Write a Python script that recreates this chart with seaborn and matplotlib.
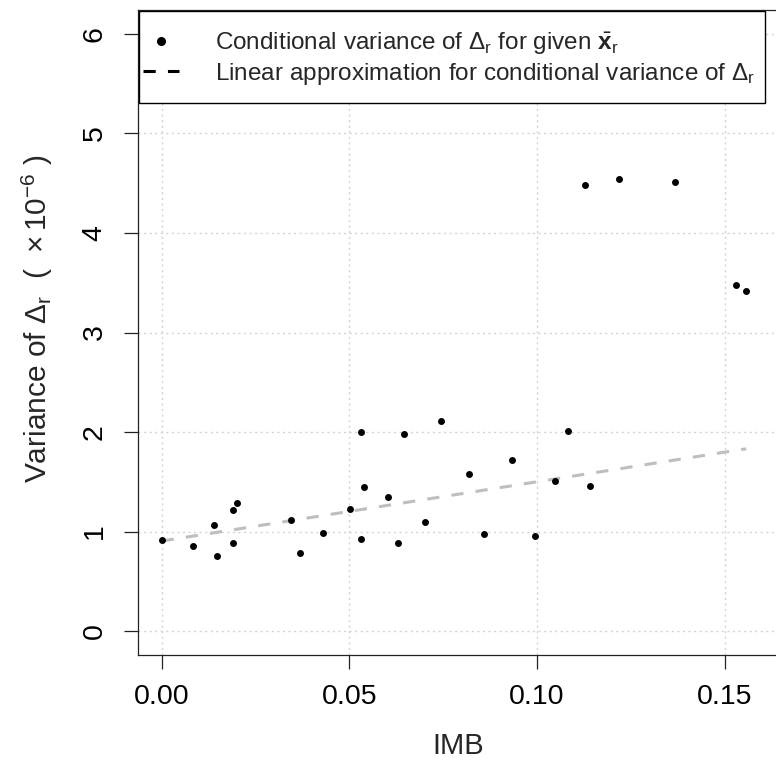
import numpy as np
import pandas as pd
import matplotlib
matplotlib.use("Agg")
import matplotlib.pyplot as plt
import seaborn as sns
from matplotlib.lines import Line2D
from matplotlib.patches import Rectangle

# IMB values and conditional variance (x 1e-6)
imb = [0.0000, 0.0084, 0.0140, 0.0147, 0.0191, 0.0191, 0.0202, 0.0344, 0.0368,
       0.0430, 0.0501, 0.0532, 0.0532, 0.0540, 0.0602, 0.0630, 0.0645, 0.0701,
       0.0744, 0.0818, 0.0858, 0.0932, 0.0995, 0.1047, 0.1082, 0.1141, 0.1128,
       0.1219, 0.1367, 0.1529, 0.1557]
cond_var = [0.915, 0.86, 1.065, 0.755, 1.215, 0.89, 1.285, 1.12, 0.785,
            0.99, 1.23, 2.005, 0.93, 1.45, 1.345, 0.89, 1.98, 1.095,
            2.11, 1.58, 0.98, 1.715, 0.96, 1.505, 2.01, 1.46, 4.48,
            4.54, 4.51, 3.48, 3.42]

# linear approximation, end points
lin_x = [0.0, 0.1557]
lin_y = [0.905, 1.832]

x_ticks = [0.00, 0.05, 0.10, 0.15]
y_ticks = [0, 1, 2, 3, 4, 5, 6]

sns.set_theme(style="white")
plt.rcParams['font.family'] = ['Liberation Sans', 'DejaVu Sans']
plt.rcParams['mathtext.fontset'] = 'custom'
plt.rcParams['mathtext.rm'] = 'Liberation Sans'
plt.rcParams['mathtext.it'] = 'Liberation Sans:italic'
plt.rcParams['mathtext.bf'] = 'Liberation Sans:bold'

df = pd.DataFrame({"IMB": imb, "var": cond_var})
line_df = pd.DataFrame({"IMB": lin_x, "var": lin_y})

fig = plt.figure(figsize=(7.76, 7.64), dpi=100)
ax_w, ax_h = 640.5, 645
ax = fig.add_axes([138 / 776, 109 / 764, ax_w / 776, ax_h / 764])

for t in x_ticks:
    ax.axvline(t, color="#d3d3d3", lw=1, ls=(0, (1.5, 2.5)), zorder=0)
for t in y_ticks:
    ax.axhline(t, color="#d3d3d3", lw=1, ls=(0, (1.5, 2.5)), zorder=0)

sns.lineplot(data=line_df, x="IMB", y="var", ax=ax, color="#bebebe", lw=2.2,
             dashes=False, zorder=2)
ax.lines[-1].set_linestyle((0, (4, 4)))
sns.scatterplot(data=df, x="IMB", y="var", ax=ax, color="black", s=25,
                linewidth=0, zorder=3)

ax.set_xlim(-0.0063, 0.1643)
ax.set_ylim(-0.24, 6.24)
ax.set_xticks(x_ticks)
ax.set_xticklabels(["0.00", "0.05", "0.10", "0.15"])
ax.set_yticks(y_ticks)
ax.set_yticklabels([str(v) for v in y_ticks], rotation=90, va="center")
ax.tick_params(axis="both", direction="out", length=10, width=0.9,
               color="#222222", labelsize=20.5, labelcolor="black")
ax.tick_params(axis="x", pad=11, bottom=True)
ax.tick_params(axis="y", pad=12, left=True)
for sp in ax.spines.values():
    sp.set_color("#222222")
    sp.set_linewidth(0.9)

ax.set_xlabel("IMB", fontsize=21, labelpad=16)
ax.set_ylabel(r"Variance of $\Delta_\mathrm{r}$  (  $\times\,10^{-6}$ )",
              fontsize=21.5, labelpad=17)
ax.yaxis.set_label_coords(-0.13, 0.522)

# legend box (white, black border) drawn over the top of the panel
box = Rectangle((0.5 / ax_w, (655 - 102.5) / ax_h), 626.5 / ax_w, 92 / ax_h,
                transform=ax.transAxes, facecolor="white", edgecolor="black",
                lw=1.0, zorder=5, clip_on=False)
ax.add_patch(box)

handles = [
    Line2D([], [], marker="o", color="black", ls="none", markersize=5.5),
    Line2D([], [], color="black", lw=2.2, ls=(0, (4, 4))),
]
labels = [
    r"Conditional variance of $\Delta_\mathrm{r}$ for given $\bar{\mathbf{x}}_\mathrm{r}$",
    r"Linear approximation for conditional variance of $\Delta_\mathrm{r}$",
]
leg = ax.legend(handles, labels, loc="upper left",
                bbox_to_anchor=(5 / ax_w, (655 - 30) / ax_h),
                borderaxespad=0, borderpad=0, fontsize=17.5, frameon=False,
                handlelength=1.5, handletextpad=1.45, labelspacing=0.18)
leg.set_zorder(6)

fig.savefig("out.png", dpi=100)
